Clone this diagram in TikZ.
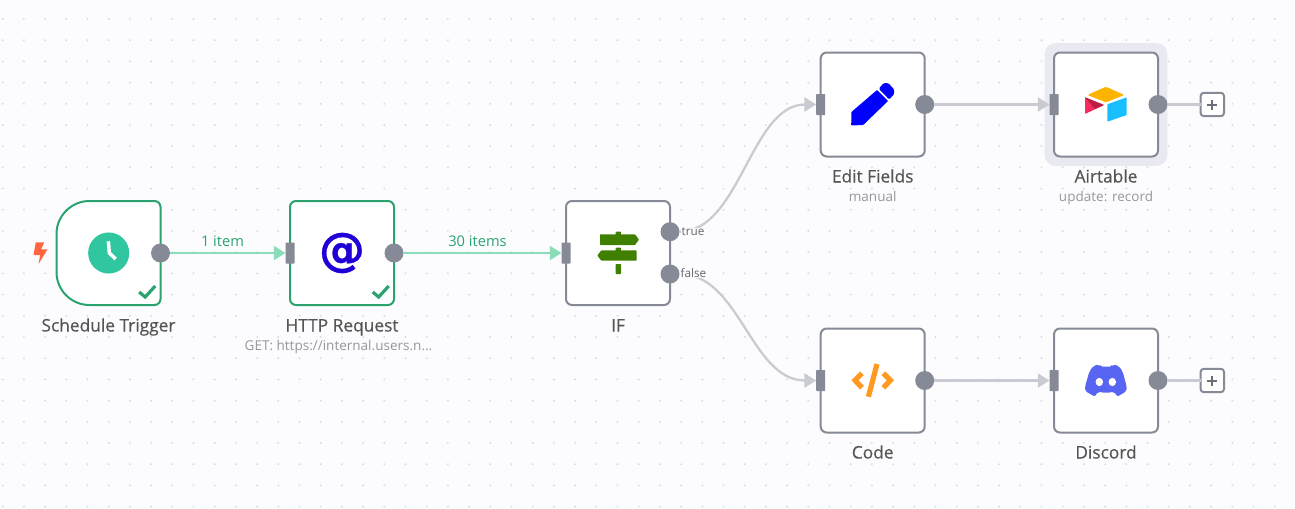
\documentclass[tikz,border=0pt]{standalone}
\usepackage{fontspec}
\setmainfont{Open Sans}
\newfontfamily\titlefont[FakeBold=0.45]{Open Sans}
\newfontfamily\atfont[FakeBold=0.6]{DejaVu Sans Bold}
\usetikzlibrary{arrows.meta}
\definecolor{canvasbg}{HTML}{FCFCFE}
\definecolor{griddot}{HTML}{D9DAE0}
\definecolor{halogray}{HTML}{E8E9F1}
\definecolor{portgray}{HTML}{858A96}
\definecolor{edgegray}{HTML}{C9CBD3}
\definecolor{edgegreen}{HTML}{8ADDB8}
\definecolor{okgreen}{HTML}{2BA36F}
\definecolor{titlegray}{HTML}{555555}
\definecolor{subgray}{HTML}{96979D}
\tikzset{
    nodebody/.style={draw=portgray,fill=white,line width=1.5pt,rounded corners=4.5pt,minimum width=78pt,minimum height=78pt,outer sep=0pt},
    okbody/.style={nodebody,draw=okgreen},
    outport/.style={circle,fill=portgray,minimum size=14.25pt,inner sep=0pt,outer sep=0pt},
    inport/.style={fill=portgray,minimum width=6.75pt,minimum height=15.75pt,inner sep=0pt,outer sep=0pt,rounded corners=.5pt},
    plusbox/.style={draw=portgray,fill=white,line width=1.5pt,rounded corners=2.5pt,minimum size=17.6pt,inner sep=0pt,outer sep=0pt},
    grayedge/.style={draw=edgegray,line width=1.7pt,-{Triangle[length=8.8pt,width=10.5pt]}},
    greenedge/.style={draw=edgegreen,line width=1.7pt,-{Triangle[length=8.8pt,width=10.5pt]}},
    stubedge/.style={draw=edgegray,line width=1.7pt},
    titletext/.style={anchor=base,inner sep=0pt,text=titlegray,font=\fontsize{13pt}{15pt}\titlefont},
    subtext/.style={anchor=base,inner sep=0pt,text=subgray,font=\fontsize{10.15pt}{12pt}\selectfont},
    edgetext/.style={anchor=base,inner sep=0pt,text=okgreen,font=\fontsize{11pt}{13pt}\selectfont},
    porttext/.style={anchor=base west,inner sep=.3pt,fill=canvasbg,text=titlegray!90,font=\fontsize{8.8pt}{10pt}\selectfont},
    checkmark/.style={draw=okgreen,line width=2.4pt}
}
\begin{document}
\begin{tikzpicture}[x=.75pt,y=-.75pt]
        \useasboundingbox (0,0) rectangle (1295,508);
        \fill[canvasbg] (0,0) rectangle (1295,508);
        %% dots
        \foreach \i in {0,...,60}
            \foreach \j in {0,...,23}
                \fill[griddot] (2.7+21.2*\i,19+21.2*\j) circle (.8pt);
        %% Blocks
        \node[minimum size=92pt,fill=halogray,rounded corners=8pt,outer sep=0pt] (airhalo) at (1106,104.5) {};
        \node[nodebody,draw=none,fill=none] (sched) at (108.5,253) {};
        \begin{scope}[shift={(sched.center)}]
            \filldraw[draw=okgreen,fill=white,line width=1.5pt] (52,-46) .. controls (52,-49.3) and (49.3,-52) .. (46,-52) -- (-19,-52) .. controls (-37.2,-52) and (-52,-37.2) .. (-52,-19) -- (-52,19) .. controls (-52,37.2) and (-37.2,52) .. (-19,52) -- (46,52) .. controls (49.3,52) and (52,49.3) .. (52,46) -- cycle;
        \end{scope}
        \node[okbody] (http) at (342,253) {};
        \node[nodebody] (iff) at (618,253) {};
        \node[nodebody] (edit) at (872.7,104.5) {};
        \node[nodebody] (air) at (1106,104.5) {};
        \node[nodebody] (code) at (872.7,380.5) {};
        \node[nodebody] (disc) at (1106,380.5) {};
        %% ports
        \node[outport] (schedout) at (sched.east) {};
        \node[inport] (httpin) at (http.west) {};
        \node[outport] (httpout) at (http.east) {};
        \node[inport] (iffin) at (iff.west) {};
        \node[outport] (ifftrue) at (670,231.7) {};
        \node[outport] (ifffalse) at (670,274) {};
        \node[inport] (editin) at (edit.west) {};
        \node[outport] (editout) at (edit.east) {};
        \node[inport] (airin) at (air.west) {};
        \node[outport] (airout) at (air.east) {};
        \node[inport] (codein) at (code.west) {};
        \node[outport] (codeout) at (code.east) {};
        \node[inport] (discin) at (disc.west) {};
        \node[outport] (discout) at (disc.east) {};
        \node[plusbox] (airplus) at (1212.3,104.5) {};
        \node[plusbox] (discplus) at (1212.3,380.5) {};
        %% edges
        \draw[greenedge] (schedout) -- (httpin);
        \draw[greenedge] (httpout) -- (iffin);
        \draw[grayedge] (ifftrue) .. controls +(70,0) and +(-70,0) .. (editin);
        \draw[grayedge] (ifffalse) .. controls +(70,0) and +(-70,0) .. (codein);
        \draw[grayedge] (editout) -- (airin);
        \draw[grayedge] (codeout) -- (discin);
        \draw[stubedge] (airout) -- (airplus);
        \draw[stubedge] (discout) -- (discplus);
        %% labels
        \node[edgetext] (oneitem) at (222.5,246) {1 item};
        \node[edgetext] (thirtyitems) at (477.5,246) {30 items};
        \node[porttext] (truetext) at (681,235.7) {true};
        \node[porttext] (falsetext) at (680,277.7) {false};
        \node[titletext] (schedtitle) at (108.5,331.5) {Schedule Trigger};
        \node[titletext] (httptitle) at (342,331.5) {HTTP Request};
        \node[subtext] (httpsub) at (338.5,350.5) {GET: https://internal.users.n...};
        \node[titletext] (ifftitle) at (618,331.5) {IF};
        \node[titletext] (edittitle) at (872.7,182.5) {Edit Fields};
        \node[subtext] (editsub) at (872.7,201.5) {manual};
        \node[titletext] (airtitle) at (1106,182.5) {Airtable};
        \node[subtext] (airsub) at (1106,201.5) {update: record};
        \node[titletext] (codetitle) at (872.7,458.5) {Code};
        \node[titletext] (disctitle) at (1106,458.5) {Discord};
        %% plus signs
        \foreach \p in {airplus,discplus}
            \draw[portgray!80!black,line width=1.5pt] (\p.center) ++(-5,0) -- ++(10,0) (\p.center) ++(0,-5) -- ++(0,10);
        %% trigger bolt
        \begin{scope}[shift={(sched.center)}]
            \fill[red!60!orange!75!white] (-72.7,-10.7) -- (-64.3,-10.7) -- (-67.3,-3.7) -- (-61,-3.7) -- (-70,11) -- (-68.3,2) -- (-75,2) -- cycle;
            \fill[fill={rgb,255:red,47;green,198;blue,160}] (0.2,0) circle (15.4pt);
            \draw[white,line width=2.6pt,line join=round] (-0.1,-11.7) -- (0.8,0) -- (7.2,6);
            \draw[checkmark] (30.7,39) -- (36.7,44) -- (46.7,33);
        \end{scope}
        \draw[checkmark] (http.center) ++(30.7,39) -- ++(6,5) -- ++(10,-11);
        %% http icon
        \node[inner sep=0pt,text={rgb,255:red,31;green,0;blue,214},font=\fontsize{34.5pt}{34.5pt}\atfont] (httpicon) at (http.center) {@};
        %% if icon
        \begin{scope}[shift={(iff.center)}]
            \definecolor{signgreen}{HTML}{408000}
            \fill[signgreen,rounded corners=.5pt] (-18,-18.7) -- (17,-18.7) -- (21,-13.4) -- (17,-8) -- (-18,-8) -- cycle;
            \fill[signgreen,rounded corners=.5pt] (-16.7,-2.7) -- (18.7,-2.7) -- (18.7,7.7) -- (-16.7,7.7) -- (-20.7,2.5) -- cycle;
            \fill[signgreen,rounded corners=.5pt] (-2.3,-21.3) rectangle (3,-18);
            \fill[signgreen,rounded corners=.5pt] (-2.3,-5.3) rectangle (3,-2);
            \fill[signgreen,rounded corners=.5pt] (-2.3,11) rectangle (3,21);
        \end{scope}
        %% pencil icon
        \begin{scope}[shift={(edit.center)}]
            \fill[blue,rounded corners=.5pt] (-21.3,7.5) -- (4.3,-14.5) -- (15.3,-3.5) -- (-9.5,20.5) -- (-21.5,21) -- cycle;
            \fill[blue,rounded corners=1pt] (6,-15.7) -- (11,-21.5) -- (15.5,-21.5) -- (21.5,-15) -- (21.5,-10.5) -- (16.5,-5) -- cycle;
        \end{scope}
        %% airtable icon
        \begin{scope}[shift={(air.center)}]
            \fill[fill={rgb,255:red,252;green,180;blue,0},rounded corners=1pt] (-18.7,-9.5) -- (0,-17.8) -- (18.3,-9.5) -- (0,-2.2) -- cycle;
            \fill[fill={rgb,255:red,24;green,191;blue,255},rounded corners=.5pt] (1.3,-.2) -- (20.7,-7.2) -- (20.7,10.5) -- (1.3,17.2) -- cycle;
            \fill[fill={rgb,255:red,248;green,43;blue,96},rounded corners=.5pt] (-21,-7.2) -- (-2,.5) -- (-21,9.5) -- cycle;
            \fill[fill={rgb,255:red,186;green,30;blue,69}] (-21,-7.2) -- (-2,.5) -- (-11,4.5) -- cycle;
        \end{scope}
        %% code icon
        \begin{scope}[shift={(code.center)}]
            \definecolor{codeorange}{HTML}{FF9922}
            \draw[codeorange,line width=3.9pt] (-10.7,-7.2) -- (-17.7,-.2) -- (-10.7,7.2);
            \draw[codeorange,line width=3.9pt] (10.7,-7.2) -- (17.7,-.2) -- (10.7,7.2);
            \draw[codeorange,line width=3.9pt] (4.3,-16.5) -- (-4.3,16.2);
        \end{scope}
        %% discord icon
        \begin{scope}[shift={(disc.center)}]
            \fill[fill={rgb,255:red,88;green,101;blue,242},rounded corners=1.5pt] (-6.7,-16.2) -- (-12.7,-14.5) -- (-16.7,-8.8) -- (-21,6.2) -- (-21,10.5) -- (-11,16.2) -- (-8.3,11.2) -- (0,12.5) -- (8.3,11.2) -- (11.3,16.2) -- (20.7,10.5) -- (20.7,6.2) -- (16.7,-8.8) -- (12.7,-14.5) -- (6.7,-16.2) -- (5.7,-13.8) -- (-5.7,-13.8) -- cycle;
            \fill[white] (-6.7,1.5) ellipse (2.8pt and 3.1pt);
            \fill[white] (6.3,1.5) ellipse (2.8pt and 3.1pt);
        \end{scope}
    \end{tikzpicture}
\end{document}
